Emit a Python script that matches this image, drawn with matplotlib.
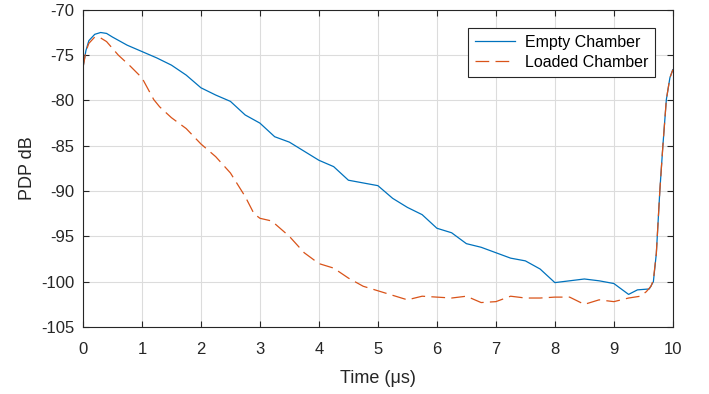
import numpy as np
import matplotlib.pyplot as plt

plt.rcParams['font.family'] = ['Liberation Sans', 'DejaVu Sans']
plt.rcParams['axes.unicode_minus'] = False

# data
t_empty = [0, 0.05, 0.1, 0.2, 0.3, 0.4, 0.5, 0.75, 1.0, 1.25, 1.5, 1.75, 2.0, 2.25, 2.5, 2.75,
           3.0, 3.25, 3.5, 3.75, 4.0, 4.25, 4.5, 4.75, 5.0, 5.25, 5.5, 5.75, 6.0, 6.25, 6.5,
           6.75, 7.0, 7.25, 7.5, 7.75, 8.0, 8.25, 8.5, 8.75, 9.0, 9.25, 9.4, 9.6, 9.67,
           9.72, 9.78, 9.83, 9.89, 9.95, 10.0]
pdp_empty = [-76.4, -74.5, -73.4, -72.7, -72.5, -72.6, -73.0, -73.9, -74.6, -75.3, -76.1, -77.2,
             -78.6, -79.4, -80.1, -81.6, -82.5, -84.0, -84.6, -85.6, -86.6, -87.3, -88.8, -89.1,
             -89.4, -90.8, -91.8, -92.6, -94.1, -94.6, -95.8, -96.2, -96.8, -97.4, -97.7, -98.6,
             -100.1, -99.9, -99.7, -99.9, -100.2, -101.4, -100.9, -100.8, -100.0,
             -96.9, -89.9, -85.1, -79.9, -77.5, -76.6]

t_loaded = [0, 0.05, 0.1, 0.2, 0.3, 0.4, 0.6, 0.8, 1.0, 1.2, 1.3, 1.5, 1.75, 2.0, 2.25, 2.5,
            2.75, 2.9, 3.0, 3.2, 3.5, 3.75, 4.0, 4.25, 4.5, 4.75, 5.0, 5.25, 5.5, 5.75, 6.0,
            6.25, 6.5, 6.75, 7.0, 7.25, 7.5, 7.75, 8.0, 8.25, 8.5, 8.75, 9.0, 9.25, 9.45,
            9.55, 9.63, 9.67, 9.72, 9.78, 9.83, 9.89, 9.95, 10.0]
pdp_loaded = [-76.4, -74.6, -73.7, -73.0, -73.1, -73.5, -75.0, -76.2, -77.5, -79.9, -80.7, -81.9,
              -83.1, -84.8, -86.2, -88.0, -90.6, -92.5, -93.0, -93.3, -95.0, -96.8, -98.0, -98.5,
              -99.6, -100.5, -101.0, -101.5, -102.0, -101.6, -101.7, -101.8, -101.6, -102.3,
              -102.2, -101.6, -101.8, -101.8, -101.7, -101.7, -102.5, -102.0, -102.2, -101.8,
              -101.6, -101.1, -100.5, -99.8, -96.9, -89.9, -85.1, -79.9, -77.5, -76.6]

fig = plt.figure(figsize=(7.09, 3.94), dpi=100)
ax = fig.add_axes([0.117, 0.170, 0.832, 0.805])

ax.plot(t_empty, pdp_empty, color='#0072BD', lw=0.9, label='Empty Chamber')
ax.plot(t_loaded, pdp_loaded, color='#D95319', lw=0.9, dashes=(11, 5), label='Loaded Chamber')

ax.set_xlim(0, 10)
ax.set_ylim(-105, -70)
ax.set_xticks(np.arange(0, 11, 1))
ax.set_yticks(np.arange(-105, -69, 5))
ax.grid(True, color='#dcdcdc', lw=0.8)
ax.set_axisbelow(True)
for s in ax.spines.values():
    s.set_color('#262626')
    s.set_linewidth(0.8)
ax.tick_params(direction='in', top=True, right=True, colors='#262626',
               labelsize=12, length=4, width=0.8)
ax.tick_params(axis='x', pad=11)
ax.tick_params(axis='y', pad=6)

ax.set_xlabel('Time (\u03bcs)', fontsize=13, color='#262626', labelpad=9)
ax.set_ylabel('PDP dB', fontsize=13, color='#262626', labelpad=4)

leg = ax.legend(loc='upper right', bbox_to_anchor=(0.984, 0.969), fontsize=11.5,
                fancybox=False, framealpha=1, edgecolor='#262626', handlelength=2.5,
                borderpad=0.45, labelspacing=0.3, handletextpad=0.6)
leg.get_frame().set_linewidth(0.8)

fig.savefig('out.png', dpi=100)
